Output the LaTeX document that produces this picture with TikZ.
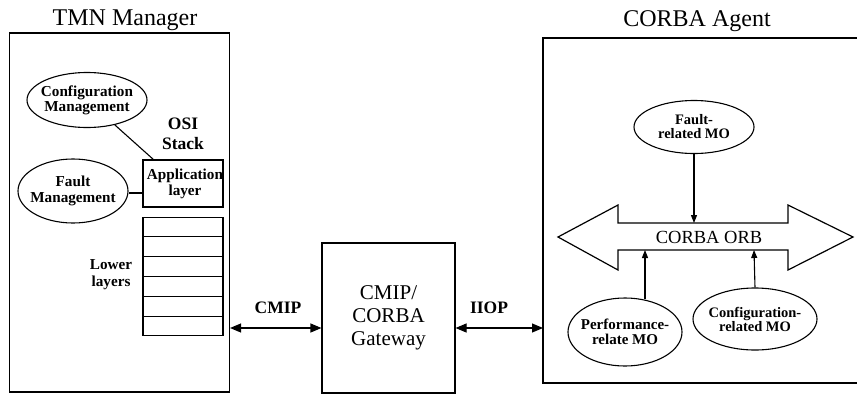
\documentclass[tikz,border=0pt]{standalone}
\usepackage{fontspec}
\setmainfont{Liberation Serif}
\usetikzlibrary{shapes.geometric,arrows.meta}
\begin{document}
\begin{tikzpicture}[x=1pt,y=-1pt,line width=1.1pt,
  title/.style={font=\fontsize{24}{26}\selectfont},
  lbl/.style={font=\bfseries\fontsize{14.5}{16}\selectfont,align=center},
  lbig/.style={font=\bfseries\fontsize{15.2}{17}\selectfont,align=center},
  oval/.style={draw,ellipse,inner sep=0pt},
  cell/.style={draw,minimum width=80pt,minimum height=19.8pt,inner sep=0pt},
  big/.style={{Triangle[length=11pt,width=9pt]}-{Triangle[length=11pt,width=9pt]}},
  small/.style={-{Triangle[length=8pt,width=6pt]}}]
\useasboundingbox (0,0) rectangle (857,394);

% TMN manager side
\node[title] at (125,20) {TMN Manager};
\node[draw,minimum width=220pt,minimum height=359pt,inner sep=0pt] (mgr) at (119.5,212.5) {};

\node[oval,minimum width=120pt,minimum height=55pt] (cfg) at (87,100) {};
\node[lbig] at (cfg) {Configuration\\[-2pt]Management};
\node[oval,minimum width=110pt,minimum height=64pt] (flt) at (73,191) {};
\node[lbig] at (flt) {Fault\\[-1pt]Management};

\node[font=\bfseries\fontsize{17.5}{20}\selectfont,align=center] (osi) at (183,134) {OSI\\Stack};
\node[draw,minimum width=80pt,minimum height=47pt,inner sep=0pt] (app) at (183,183.5) {};
\node[lbig] at (185,183.5) {Application\\[-1pt]layer};

\node[cell] (c1) at (183,227) {};
\node[cell] (c2) at (183,246.8) {};
\node[cell] (c3) at (183,266.6) {};
\node[cell] (c4) at (183,286.4) {};
\node[cell] (c5) at (183,306.2) {};
\node[cell] (c6) at (183,326) {};
\node[lbig] at (111,275) {Lower\\layers};

\coordinate (appTop) at (154,160);
\draw (cfg) -- (appTop);
\draw (flt.east |- 0,193) -- (app.west |- 0,193);

% gateway
\node[draw,minimum width=133pt,minimum height=150pt,inner sep=0pt,align=center,
  font=\fontsize{21}{23}\selectfont] (gw) at (388.5,318) {CMIP/\\CORBA\\Gateway};

% CORBA agent side
\node[title] at (697,21) {CORBA Agent};
\draw (870,38) -- (543,38) -- (543,383) -- (870,383);
\coordinate (agL) at (543,328);

\draw[big] (mgr.east |- 0,328) -- (gw.west |- 0,328);
\draw[big] (gw.east |- 0,328) -- (agL);
\node[font=\bfseries\fontsize{17.5}{20}\selectfont] at (278,308) {CMIP};
\node[font=\bfseries\fontsize{17.5}{20}\selectfont] at (489,308) {IIOP};

% ORB double block arrow
\draw[line width=1.2pt] (558,237) -- (618,205) -- (618,223) -- (788,223) -- (788,205)
  -- (853,237) -- (788,270) -- (788,250) -- (618,250) -- (618,270) -- cycle;
\node[font=\fontsize{18.5}{20}\selectfont] (orb) at (709,237) {CORBA ORB};

\node[oval,minimum width=120pt,minimum height=53pt] (fmo) at (694,127) {};
\node[lbl] at (fmo) {Fault-\\[-2pt]related MO};
\node[oval,minimum width=114pt,minimum height=68pt] (pmo) at (625,332) {};
\node[lbl,font=\bfseries\fontsize{15}{17}\selectfont] at (pmo) {Performance-\\[-2pt]relate MO};
\node[oval,minimum width=124pt,minimum height=62pt] (cmo) at (755,319) {};
\node[lbl] at (cmo) {Configuration-\\[-2pt]related MO};

\coordinate (orbT) at (694,223);
\coordinate (orbB1) at (645,250);
\coordinate (orbB2) at (754,250);
\draw[small] (fmo.south) -- (orbT);
\draw[small] (645,299) -- (orbB1);
\draw[small] (cmo.north) -- (orbB2);
\end{tikzpicture}
\end{document}
